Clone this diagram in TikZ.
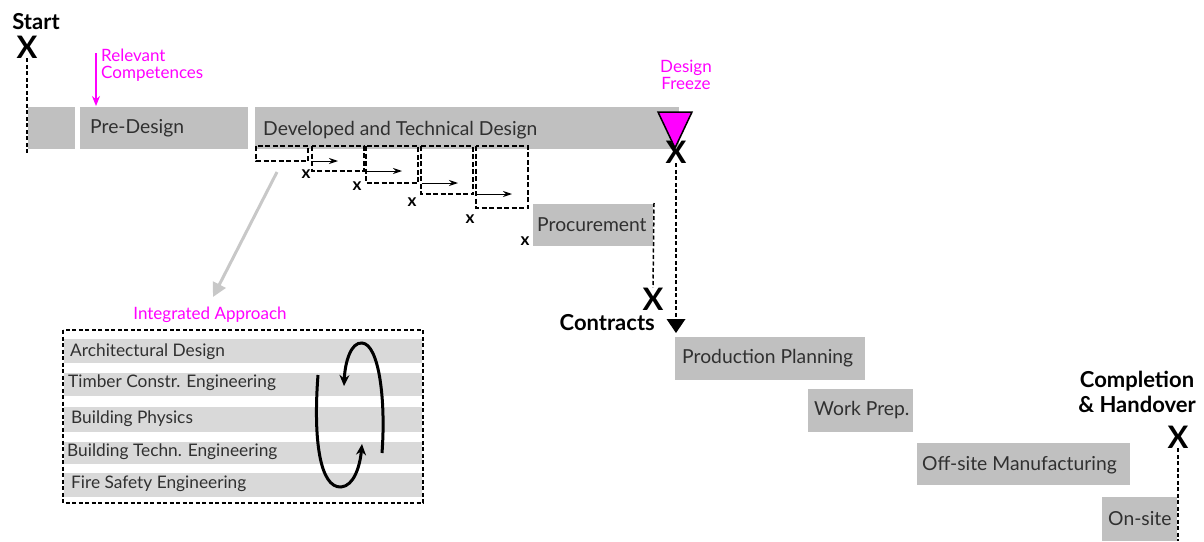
\documentclass[tikz,border=0pt]{standalone}
\usepackage{fontspec}
\setmainfont{Lato}
\usetikzlibrary{arrows.meta}
\definecolor{boxgray}{HTML}{C0C0C0}
\definecolor{stripe}{HTML}{D9D9D9}
\definecolor{mag}{HTML}{FF00FF}
\definecolor{txt}{HTML}{303030}
\definecolor{arrgray}{HTML}{C8C8C8}
\begin{document}
\begin{tikzpicture}[x=1pt,y=-1pt,
  lbl/.style={font=\fontsize{19.3}{22}\selectfont, text=txt, inner sep=0pt, anchor=west},
  slbl/.style={font=\fontsize{17.3}{20}\selectfont, text=txt, inner sep=0pt, anchor=west},
  magt/.style={font=\fontsize{17}{17}\selectfont, text=mag, inner sep=0pt},
  boldt/.style={font=\bfseries\fontsize{22}{25}\selectfont, text=black, inner sep=0pt},
  bigx/.style={font=\bfseries\fontsize{31}{31}\selectfont, text=black, inner sep=0pt},
  smallx/.style={font=\bfseries\fontsize{17}{17}\selectfont, text=black, inner sep=0pt},
  dline/.style={draw=black, line width=1.5pt, dash pattern=on 4pt off 2.5pt},
  dboxline/.style={draw=black, line width=1.5pt, dash pattern=on 5pt off 2.5pt},
  smallarr/.style={draw=black, line width=1pt, -{Stealth[length=9pt,width=6pt]}},
  cyc/.style={draw=black, line width=3pt, -{Stealth[length=11pt,width=10pt]}},
]
\useasboundingbox (0,0) rectangle (1204,541);

% Start
\node[boldt] (start) at (36,22) {Start};
\node[bigx] (xstart) at (27,47) {X};
\coordinate (sEnd) at (27,153);
\draw[dline] (xstart.south) -- (sEnd);

% top bars
\fill[boxgray] (28,107) rectangle (75,149);
\fill[boxgray] (80,107) rectangle (248,149);
\node[lbl] (pre) at (90,128) {Pre-Design};
\fill[boxgray] (255,107) rectangle (679,149);
\node[lbl] (dev) at (263,130) {Developed and Technical Design};

% relevant competences
\node[magt, anchor=north west, align=left] (rc) at (101,49) {Relevant\\Competences};
\coordinate (rcTop) at (96,53);
\coordinate (rcEnd) at (96,106);
\draw[mag, line width=1.3pt, -{Stealth[length=10pt,width=8pt]}] (rcTop) -- (rcEnd);

% design freeze
\node[magt, align=center] (df) at (686,75) {Design\\Freeze};
\filldraw[fill=mag, draw=black, line width=1.5pt] (658,112) -- (692,112) -- (675,148) -- cycle;
\node[bigx] (xdf) at (676,152) {X};
\coordinate (ctip) at (676,333);
\draw[dline, -{Triangle[width=19pt,length=14pt,line width=0pt]}] (xdf.south) -- (ctip);
\node[boldt, anchor=east] (contracts) at (655,323) {Contracts};

% procurement
\fill[boxgray] (533,204) rectangle (653,246);
\node[lbl] (proc) at (537,225) {Procurement};
\node[bigx] (xproc) at (653,299) {X};
\coordinate (pTop) at (654,203);
\draw[dline] (pTop) -- (xproc.north);

% small dashed boxes
\draw[dboxline] (256,146) rectangle (308,161);
\draw[dboxline] (312,146) rectangle (364,171);
\draw[dboxline] (366,146) rectangle (418,183);
\draw[dboxline] (421,146) rectangle (473,194);
\draw[dboxline] (476,146) rectangle (528,208);
\coordinate (a1s) at (313,161); \coordinate (a1e) at (338,161);
\coordinate (a2s) at (367,171); \coordinate (a2e) at (402,171);
\coordinate (a3s) at (422,183); \coordinate (a3e) at (458,183);
\coordinate (a4s) at (477,194); \coordinate (a4e) at (512,194);
\draw[smallarr] (a1s) -- (a1e);
\draw[smallarr] (a2s) -- (a2e);
\draw[smallarr] (a3s) -- (a3e);
\draw[smallarr] (a4s) -- (a4e);
\node[smallx] (x1) at (306,174) {x};
\node[smallx] (x2) at (357,186) {x};
\node[smallx] (x3) at (412,202) {x};
\node[smallx] (x4) at (470,219) {x};
\node[smallx] (x5) at (525,241) {x};

% gray arrow
\coordinate (gS) at (277,172);
\coordinate (gE) at (213,297);
\draw[arrgray, line width=3pt, -{Triangle[width=14pt,length=14pt]}] (gS) -- (gE);

% integrated approach
\node[magt] (ia) at (210,315) {Integrated Approach};
\fill[stripe] (64,339) rectangle (422,363);
\fill[stripe] (64,373) rectangle (422,396);
\fill[stripe] (64,407) rectangle (422,432);
\fill[stripe] (64,442) rectangle (422,464);
\fill[stripe] (64,473) rectangle (422,497);
\draw[dline] (63,330) rectangle (423,503);
\node[slbl] (ad) at (70,352) {Architectural Design};
\node[slbl] (tc) at (68,383) {Timber Constr. Engineering};
\node[slbl] (bp) at (71,419) {Building Physics};
\node[slbl] (bt) at (67,452) {Building Techn. Engineering};
\node[slbl] (fs) at (71,484) {Fire Safety Engineering};
\draw[cyc] (318,375) .. controls (313,440) and (320,488) .. (341,487) .. controls (354,486) and (360,466) .. (362,444);
\draw[cyc] (382,453) .. controls (386,400) and (379,344) .. (362,343) .. controls (351,342) and (345,362) .. (344,386);

% production chain
\fill[boxgray] (675,337) rectangle (865,380);
\node[lbl] (pp) at (682,358) {Production Planning};
\fill[boxgray] (808,389) rectangle (913,432);
\node[lbl] (wp) at (814,410) {Work Prep.};
\fill[boxgray] (917,443) rectangle (1130,485);
\node[lbl] (om) at (922,465) {Off-site Manufacturing};
\fill[boxgray] (1102,497) rectangle (1177,541);
\node[lbl] (os) at (1108,519) {On-site};

% completion
\node[boldt, align=center] (comp) at (1137,392) {Completion\\\& Handover};
\node[bigx] (xcomp) at (1178,437) {X};
\coordinate (cEnd) at (1178,541);
\draw[dline] (xcomp.south) -- (cEnd);
\end{tikzpicture}
\end{document}
